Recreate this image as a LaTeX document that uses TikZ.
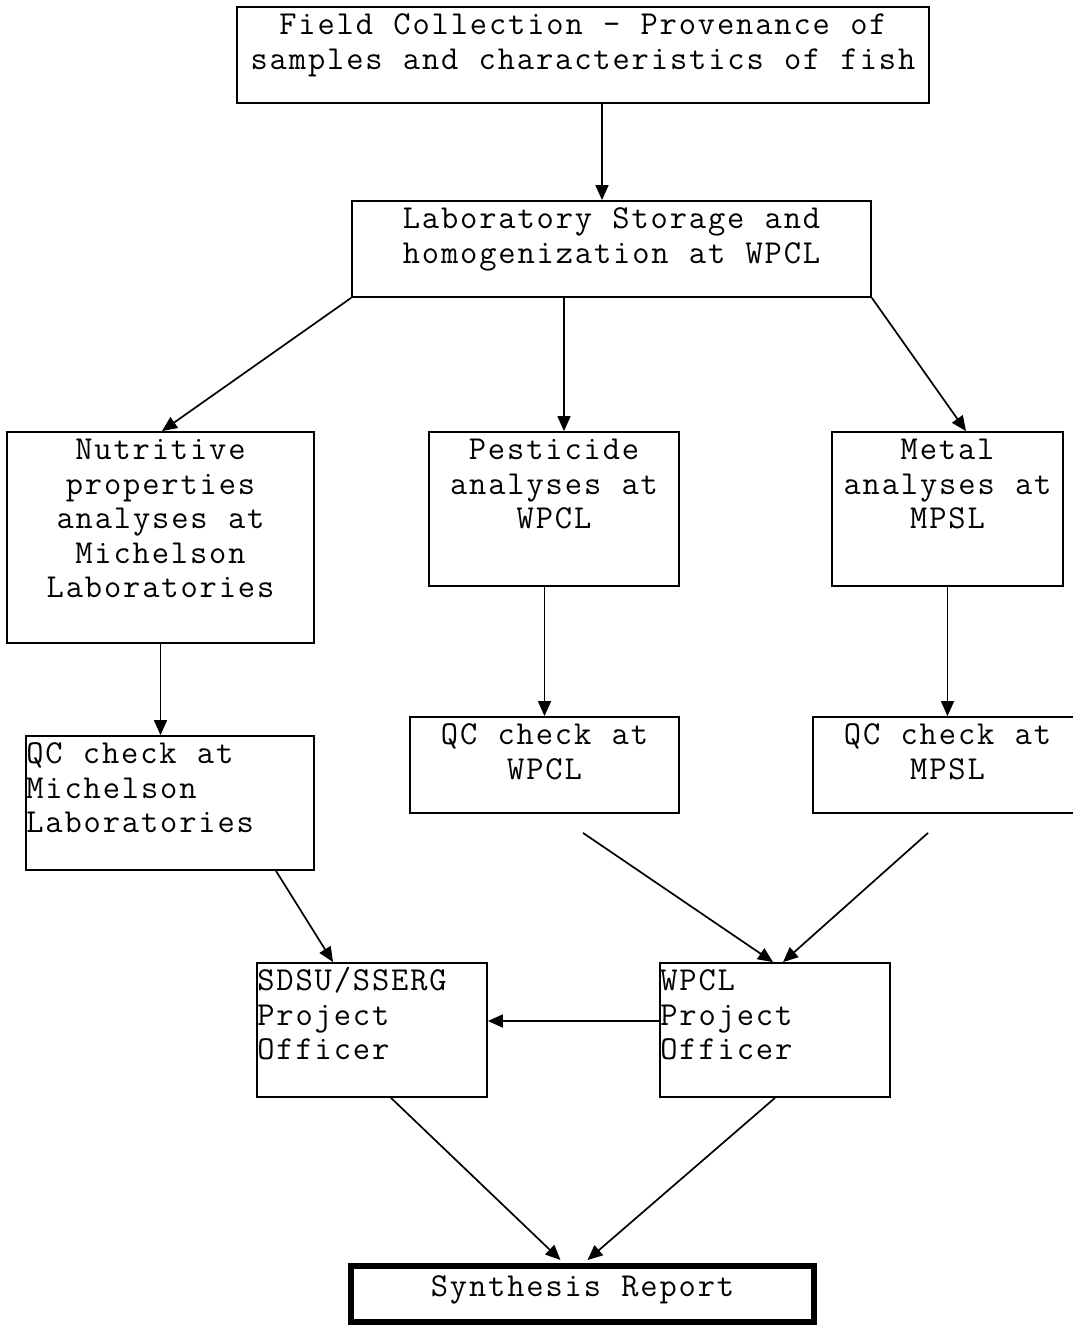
\documentclass[tikz,border=0pt]{standalone}
\usepackage{fontspec}
\setmonofont[LetterSpace=5.6, WordSpace=1.06]{Latin Modern Mono}
\usetikzlibrary{arrows.meta,calc}
\tikzset{
  box/.style={draw, line width=1.8pt, inner sep=0pt, rectangle},
  txt/.style={font=\ttfamily\fontsize{33.5}{34.5}\selectfont, inner sep=0pt},
  arr/.style={-{Triangle[length=15pt,width=13pt]}, line width=1.7pt},
}
\begin{document}
\begin{tikzpicture}[x=1pt,y=-1pt]
\useasboundingbox (0,0) rectangle (1072,1325);
% boxes
\node[box, minimum width=692, minimum height=96] (field) at (583,55) {};
\node[box, minimum width=519, minimum height=96] (lab) at (611.5,249) {};
\node[box, minimum width=307, minimum height=211] (nutr) at (160.5,537.5) {};
\node[box, minimum width=250, minimum height=154] (pest) at (554,509) {};
\node[box, minimum width=231, minimum height=154] (metal) at (947.5,509) {};
\node[box, minimum width=288, minimum height=134] (qcm) at (170,803) {};
\node[box, minimum width=269, minimum height=96] (qcw) at (544.5,765) {};
\node[box, minimum width=269, minimum height=96] (qcmp) at (947.5,765) {};
\node[box, minimum width=230, minimum height=134] (sdsu) at (372,1030) {};
\node[box, minimum width=230, minimum height=134] (wpo) at (775,1030) {};
\node[box, line width=6pt, minimum width=463, minimum height=56] (syn) at (582.5,1294) {};
% texts
\node[txt, align=center, anchor=north] (fieldT) at ($(field.north)+(0,4.5)$) {\strut Field Collection – Provenance of\\samples and characteristics of fish};
\node[txt, align=center, anchor=north] (labT) at ($(lab.north)+(0,4.5)$) {\strut Laboratory Storage and\\homogenization at WPCL};
\node[txt, align=center, anchor=north] (nutrT) at ($(nutr.north)+(0,4.5)$) {\strut Nutritive\\properties\\analyses at\\Michelson\\Laboratories};
\node[txt, align=center, anchor=north] (pestT) at ($(pest.north)+(0,4.5)$) {\strut Pesticide\\analyses at\\WPCL};
\node[txt, align=center, anchor=north] (metalT) at ($(metal.north)+(0,4.5)$) {\strut Metal\\analyses at\\MPSL};
\node[txt, align=left, anchor=north west] (qcmT) at ($(qcm.north west)+(1,4.5)$) {\strut QC check at\\Michelson\\Laboratories};
\node[txt, align=center, anchor=north] (qcwT) at ($(qcw.north)+(0,4.5)$) {\strut QC check at\\WPCL};
\node[txt, align=center, anchor=north] (qcmpT) at ($(qcmp.north)+(0,4.5)$) {\strut QC check at\\MPSL};
\node[txt, align=left, anchor=north west] (sdsuT) at ($(sdsu.north west)+(1,4.5)$) {\strut SDSU/SSERG\\Project\\Officer};
\node[txt, align=left, anchor=north west] (wpoT) at ($(wpo.north west)+(1,4.5)$) {\strut WPCL\\Project\\Officer};
\node[txt, align=center, anchor=north] (synT) at ($(syn.north)+(0,9.5)$) {\strut Synthesis Report};
% connector ends
\coordinate (a1) at ($(field.south)+(19,0)$);
\coordinate (a2) at ($(lab.north)+(-9.5,0)$);
\coordinate (b1) at ($(lab.south)+(-47.5,0)$);
\coordinate (b2) at ($(pest.north)+(10,0)$);
\coordinate (c2) at ($(nutr.north)+(1.5,0)$);
\coordinate (d2) at ($(metal.north)+(18.5,0)$);
\coordinate (e2) at ($(pest.south)+(-10,0)$);
\coordinate (f1) at ($(qcm.south)+(106,0)$);
\coordinate (f2) at ($(sdsu.north)+(-39,0)$);
\coordinate (g1) at ($(qcw.south)+(38.5,19)$);
\coordinate (g2) at ($(wpo.north)+(-2,0)$);
\coordinate (h1) at ($(qcmp.south)+(-19.5,19)$);
\coordinate (h2) at ($(wpo.north)+(8,0)$);
\coordinate (i1) at ($(wpo.west)+(0,-9)$);
\coordinate (j1) at ($(sdsu.south)+(19,0)$);
\coordinate (j2) at ($(syn.north)+(-22,-3)$);
\coordinate (k2) at ($(syn.north)+(5,-3)$);
% connectors
\draw[arr] (a1) -- (a1 |- a2);
\draw[arr] (lab.south west) -- (c2);
\draw[arr] (b2 |- b1) -- (b2);
\draw[arr] (lab.south east) -- (d2);
\draw[arr] (nutr.south) -- (nutr.south |- qcm.north);
\draw[arr] (qcw.north |- e2) -- (qcw.north);
\draw[arr] (metal.south) -- (qcmp.north);
\draw[arr] (f1) -- (f2);
\draw[arr] (g1) -- (g2);
\draw[arr] (h1) -- (h2);
\draw[arr] (i1) -- (i1 -| sdsu.east);
\draw[arr] (j1) -- (j2);
\draw[arr] (wpo.south) -- (k2);
\end{tikzpicture}
\end{document}
